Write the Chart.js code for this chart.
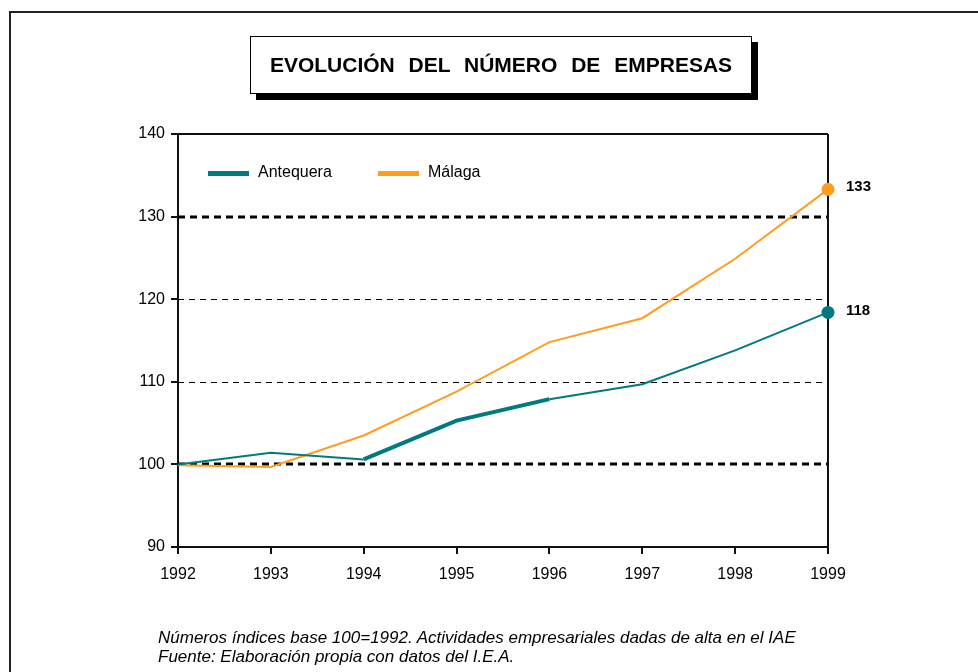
<!DOCTYPE html>
<html>
<head>
<meta charset="utf-8">
<script src="https://cdn.jsdelivr.net/npm/chart.js@4.4.0/dist/chart.umd.min.js"></script>
<style>
  html, body { margin:0; padding:0; background:#fff; }
  #wrap { position:relative; width:978px; height:672px; overflow:hidden; font-family:"Liberation Sans", Arial, sans-serif; }
  #frame { position:absolute; left:9px; top:11px; width:1000px; height:700px; border-left:2px solid #222; border-top:2px solid #222; }
  #titlebox { position:absolute; left:250px; top:36px; width:500px; height:56px; border:1px solid #000; background:#fff; box-shadow:6px 6px 0 #000; display:flex; align-items:center; justify-content:center; font-weight:bold; font-size:21px; word-spacing:8px; color:#000; }
  #note { position:absolute; left:158px; top:628px; font-style:italic; font-size:17px; line-height:19px; color:#000; }
  canvas { position:absolute; left:0; top:0; }
</style>
</head>
<body>
<div id="wrap">
  <div id="frame"></div>
  <canvas id="c" width="978" height="672"></canvas>
  <div id="titlebox">EVOLUCIÓN DEL NÚMERO DE EMPRESAS</div>
  <div id="note">Números índices base 100=1992. Actividades empresariales dadas de alta en el IAE<br>Fuente: Elaboración propia con datos del I.E.A.</div>
</div>
<script>
const years = ["1992","1993","1994","1995","1996","1997","1998","1999"];
const antequera = [100, 101.4, 100.6, 105.3, 107.9, 109.7, 113.8, 118.4];
const malaga = [99.9, 99.7, 103.5, 108.8, 114.8, 117.7, 124.9, 133.3];
const endLabels = ["118", "133"];
const yTicks = [90, 100, 110, 120, 130, 140];
const gridLines = [100, 110, 120, 130];
const boldGrid = [100, 130];

const TEAL = "#007A80";
const ORANGE = "#FF9E1E";

const overlay = {
  id: "overlay",
  beforeDatasetsDraw(chart) {
    const {ctx, chartArea: a, scales: {x, y}} = chart;
    ctx.save();
    gridLines.forEach(v => {
      const py = Math.round(y.getPixelForValue(v));
      const bold = boldGrid.includes(v);
      ctx.beginPath();
      ctx.strokeStyle = "#000";
      ctx.lineWidth = bold ? 3 : 1;
      ctx.setLineDash(bold ? [7, 5] : [6, 5]);
      ctx.moveTo(a.left, py + (bold ? 0 : 0.5));
      ctx.lineTo(a.right, py + (bold ? 0 : 0.5));
      ctx.stroke();
    });
    ctx.setLineDash([]);
    ctx.strokeStyle = "#111";
    ctx.lineWidth = 2;
    ctx.beginPath();
    ctx.moveTo(a.left, a.top);
    ctx.lineTo(a.right, a.top);
    ctx.moveTo(a.right, a.top);
    ctx.lineTo(a.right, a.bottom + 7);
    ctx.stroke();
    ctx.restore();
  },
  afterDatasetsDraw(chart) {
    const {ctx, chartArea: a, scales: {x, y}} = chart;
    ctx.save();
    const items = chart.data.datasets;
    const lx = [208, 378];
    items.forEach((ds, i) => {
      const yy = a.top + 39;
      ctx.fillStyle = ds.borderColor;
      ctx.fillRect(lx[i], yy - 2, 41, 5);
      ctx.fillStyle = "#000";
      ctx.font = "16px 'Liberation Sans', Arial, sans-serif";
      ctx.textBaseline = "middle";
      ctx.textAlign = "left";
      ctx.fillText(ds.label, lx[i] + 50, yy);
    });
    ctx.font = "bold 15px 'Liberation Sans', Arial, sans-serif";
    items.forEach((ds, i) => {
      const last = ds.data.length - 1;
      const px = x.getPixelForValue(last);
      const py = y.getPixelForValue(ds.data[last]);
      ctx.fillStyle = "#000";
      ctx.textBaseline = "middle";
      ctx.fillText(endLabels[i], px + 18, py - 2);
    });
    ctx.restore();
  }
};

new Chart(document.getElementById("c"), {
  type: "line",
  data: {
    labels: years,
    datasets: [
      {
        label: "Antequera",
        data: antequera,
        borderColor: TEAL,
        backgroundColor: TEAL,
        borderWidth: 2,
        segment: { borderWidth: ctx => (ctx.p0DataIndex === 2 || ctx.p0DataIndex === 3) ? 4 : 2 },
        pointRadius: ctx => ctx.dataIndex === antequera.length - 1 ? 5.5 : 0,
        pointHoverRadius: 0,
        tension: 0
      },
      {
        label: "Málaga",
        data: malaga,
        borderColor: ORANGE,
        backgroundColor: ORANGE,
        borderWidth: 2,
        pointRadius: ctx => ctx.dataIndex === malaga.length - 1 ? 5.5 : 0,
        pointHoverRadius: 0,
        tension: 0
      }
    ]
  },
  options: {
    responsive: false,
    animation: false,
    events: [],
    layout: { padding: { left: 0, top: 134, right: 150, bottom: 0 } },
    plugins: { legend: { display: false }, title: { display: false }, tooltip: { enabled: false } },
    scales: {
      x: {
        offset: false,
        grid: { display: true, drawOnChartArea: false, drawTicks: true, tickLength: 7, color: "#111", lineWidth: 2 },
        border: { display: true, color: "#111", width: 2 },
        ticks: { color: "#000", font: { family: "'Liberation Sans', Arial, sans-serif", size: 16 }, padding: 11, maxRotation: 0, autoSkip: false },
        afterFit(s) { s.height = 125; }
      },
      y: {
        min: 90, max: 140,
        afterBuildTicks(s) { s.ticks = yTicks.map(v => ({ value: v })); },
        grid: { display: true, drawOnChartArea: false, drawTicks: true, tickLength: 7, color: "#111", lineWidth: 2 },
        border: { display: true, color: "#111", width: 2 },
        ticks: { color: "#000", font: { family: "'Liberation Sans', Arial, sans-serif", size: 16 }, padding: 6 },
        afterFit(s) { s.width = 178; }
      }
    }
  },
  plugins: [overlay]
});
</script>
</body>
</html>
